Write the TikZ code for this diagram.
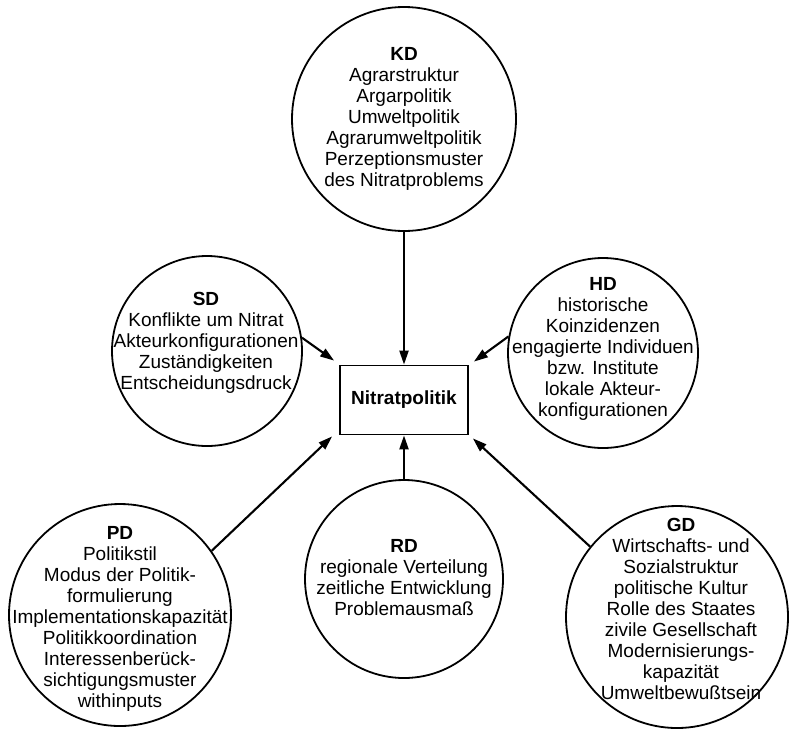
\documentclass[tikz,border=0pt]{standalone}
\usepackage{fontspec}
\setmainfont{Liberation Sans}
\usetikzlibrary{arrows.meta,calc}
\begin{document}
\begin{tikzpicture}[x=1pt,y=-1pt,
  circ/.style={circle,draw,line width=1.8pt,inner sep=0pt},
  txt/.style={align=center,inner sep=0pt,font=\fontsize{19}{21}\selectfont},
  conn/.style={line width=2.1pt,-{Triangle[length=14pt,width=9pt]}},
  centerbox/.style={draw,line width=1.8pt,minimum width=128pt,minimum height=69pt,inner sep=0pt,font=\bfseries\fontsize{19}{21}\selectfont}]
\useasboundingbox (0,0) rectangle (791,734);
\fill[white] (0,0) rectangle (791,734);

\node[circ,minimum size=224pt] (kd) at (404,119) {};
\node[circ,minimum size=190pt] (sd) at (207,351) {};
\node[circ,minimum size=190pt] (hd) at (603,353) {};
\node[circ,minimum size=222pt] (pd) at (120,615) {};
\node[circ,minimum size=198pt] (rd) at (404,579) {};
\node[circ,minimum size=222pt] (gd) at (677,617) {};

\node[centerbox] (box) at (404,400) {Nitratpolitik};

\node[txt] (kdt) at (404,119) {\textbf{KD}\\Agrarstruktur\\Argarpolitik\\Umweltpolitik\\Agrarumweltpolitik\\Perzeptionsmuster\\des Nitratproblems};
\node[txt] (sdt) at (206,343) {\textbf{SD}\\Konflikte um Nitrat\\Akteurkonfigurationen\\Zuständigkeiten\\Entscheidungsdruck};
\node[txt] (hdt) at (603,349) {\textbf{HD}\\historische\\Koinzidenzen\\engagierte Individuen\\bzw. Institute\\lokale Akteur-\\konfigurationen};
\node[txt] (pdt) at (120,619) {\textbf{PD}\\Politikstil\\Modus der Politik-\\formulierung\\Implementationskapazität\\Politikkoordination\\Interessenberück-\\sichtigungsmuster\\withinputs};
\node[txt] (rdt) at (404,578) {\textbf{RD}\\regionale Verteilung\\zeitliche Entwicklung\\Problemausmaß};
\node[txt] (gdt) at (681,609) {\textbf{GD}\\Wirtschafts- und\\Sozialstruktur\\politische Kultur\\Rolle des Staates\\zivile Gesellschaft\\Modernisierungs-\\kapazität\\Umweltbewußtsein};

\draw[conn] (kd.south) -- (box.north);
\draw[conn] (sd.8) -- ($(box.north west)+(-5,-4)$);
\draw[conn] (hd.170) -- ($(box.north east)+(5,-3)$);
\draw[conn] (pd.35) -- ($(box.south west)+(-7,1)$);
\draw[conn] (gd.141) -- ($(box.south east)+(4,3)$);
\draw[conn] (rd.north) -- (box.south);
\end{tikzpicture}
\end{document}
